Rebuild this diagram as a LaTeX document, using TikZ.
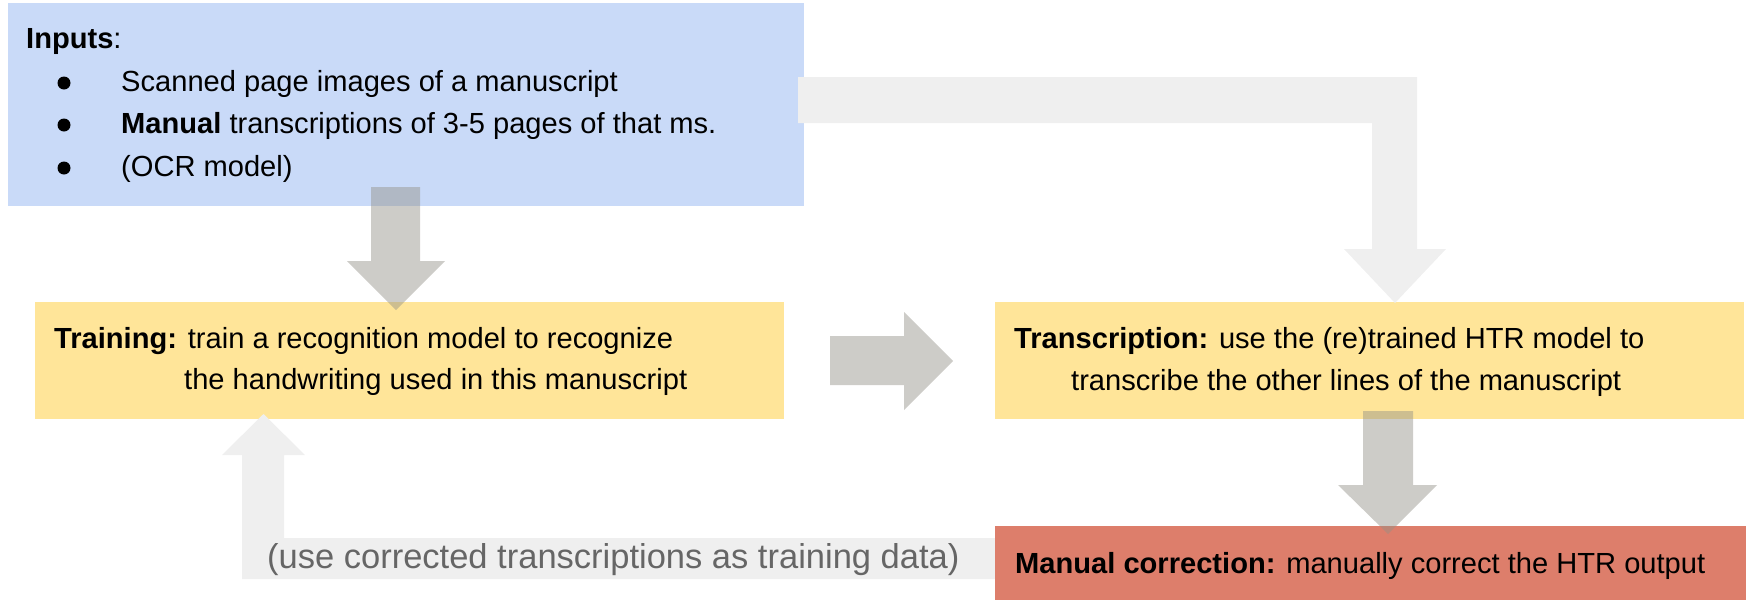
\documentclass[tikz,border=0pt]{standalone}
\usepackage{fontspec}
\setmainfont{Liberation Sans}
\definecolor{inputblue}{HTML}{C9DAF8}
\definecolor{stepyellow}{HTML}{FFE599}
\definecolor{fixred}{HTML}{DD7E6B}
\definecolor{flowlight}{HTML}{EFEFEF}
\definecolor{flowdark}{RGB}{147,144,135}
\definecolor{notegray}{HTML}{666666}

\begin{document}
\begin{tikzpicture}[x=1pt,y=-1pt,
  panel/.style={draw=none, inner sep=0pt, outer sep=0pt, anchor=north west},
  txt/.style={anchor=base west, inner sep=0pt, font=\fontsize{29.1}{35}\selectfont},
  notetxt/.style={anchor=base west, inner sep=0pt, text=notegray, font=\fontsize{34.5}{40}\selectfont},
  lightflow/.style={fill=flowlight},
  darkflow/.style={fill=flowdark, fill opacity=0.46}]

\useasboundingbox (0,0) rectangle (1746,600);

% boxes
\node[panel, fill=inputblue, minimum width=796pt, minimum height=203pt] (inputs) at (8,3) {};
\node[panel, fill=stepyellow, minimum width=749pt, minimum height=117pt] (training) at (35,302) {};
\node[panel, fill=stepyellow, minimum width=749pt, minimum height=117pt] (transcription) at (995,302) {};

% feedback arrow: corrected transcriptions back to training
\fill[lightflow] (995,538) -- (284,538) -- (284,455) -- (305,455) -- (263.5,414)
  -- (222,455) -- (242,455) -- (242,579) -- (995,579) -- cycle;

\node[panel, fill=fixred, minimum width=751pt, minimum height=74pt] (correction) at (995,526) {};

% elbow arrow: inputs straight to transcription
\fill[lightflow] (798,77) -- (1417,77) -- (1417,249) -- (1446,249) -- (1395,303)
  -- (1344,249) -- (1372,249) -- (1372,123) -- (798,123) -- cycle;

% main flow arrows
\fill[darkflow] (371,187) -- (420,187) -- (420,261) -- (445,261) -- (396,310)
  -- (347,261) -- (371,261) -- cycle;
\fill[darkflow] (830,336) -- (904,336) -- (904,312) -- (953,361) -- (904,410)
  -- (904,385) -- (830,385) -- cycle;
\fill[darkflow] (1363,411) -- (1413,411) -- (1413,485) -- (1437,485) -- (1388,534)
  -- (1338,485) -- (1363,485) -- cycle;

% inputs text
\node[txt] (inputs-title) at (26,48) {\textbf{Inputs}:};
\fill (64,83) circle (6.5pt);
\fill (64,125) circle (6.5pt);
\fill (64,168) circle (6.5pt);
\node[txt] (item1) at (121,91) {Scanned page images of a manuscript};
\node[txt] (item2) at (121,133) {\textbf{Manual} transcriptions of 3-5 pages of that ms.};
\node[txt] (item3) at (121,176) {(OCR model)};

% step texts
\node[txt] (training-l1) at (54,348) {\textbf{Training:} train a recognition model to recognize};
\node[txt] (training-l2) at (184,389) {the handwriting used in this manuscript};
\node[txt] (transcription-l1) at (1014,348) {\textbf{Transcription:} use the (re)trained HTR model to};
\node[txt] (transcription-l2) at (1071,390) {transcribe the other lines of the manuscript};
\node[txt] (correction-l1) at (1015,573) {\textbf{Manual correction:} manually correct the HTR output};

\node[notetxt] (feedback-note) at (267,568) {(use corrected transcriptions as training data)};
\end{tikzpicture}
\end{document}
